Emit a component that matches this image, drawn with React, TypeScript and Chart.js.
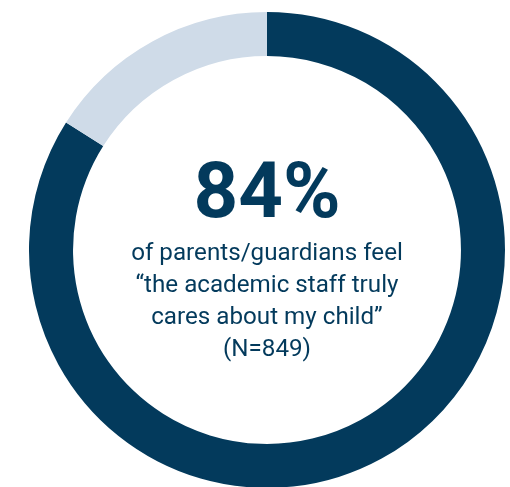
import React, { useEffect, useRef } from "react";
import { Chart, registerables } from "chart.js";

Chart.register(...registerables);

const categories = ["Agree", "Other"];
const values = [84, 16];
const colors = ["#033a5c", "#cfdbe8"];
const headline = "84%";
const captionLines = [
  "of parents/guardians feel",
  "\u201cthe academic staff truly",
  "cares about my child\u201d",
  "(N=849)",
];

export default function App() {
  const ref = useRef<HTMLCanvasElement | null>(null);
  useEffect(() => {
    if (!ref.current) return;
    const chart = new Chart(ref.current, {
      type: "doughnut",
      data: {
        labels: categories,
        datasets: [
          {
            data: values,
            backgroundColor: colors,
            borderWidth: 0,
            hoverOffset: 0,
          },
        ],
      },
      options: {
        animation: false,
        responsive: true,
        maintainAspectRatio: false,
        cutout: "81.5%",
        layout: { padding: 0 },
        plugins: { legend: { display: false }, tooltip: { enabled: false } },
      },
    });
    return () => chart.destroy();
  }, []);

  return (
    <div style={{ position: "fixed", left: 0, top: 0, width: 510, height: 487, overflow: "hidden", background: "#fff" }}>
      <div style={{ position: "absolute", left: 29, top: 12, width: 476, height: 476 }}>
        <canvas ref={ref} />
      </div>
      <div
        style={{
          position: "absolute",
          left: 67,
          width: 400,
          top: 148,
          textAlign: "center",
          color: "#033a5c",
          fontFamily: "Roboto, sans-serif",
        }}
      >
        <div style={{ fontSize: 78, fontWeight: 700, lineHeight: "86px" }}>{headline}</div>
        <div style={{ fontSize: 24.2, lineHeight: "32px", marginTop: 2 }}>
          {captionLines.map((l, i) => (
            <div key={i}>{l}</div>
          ))}
        </div>
      </div>
    </div>
  );
}
